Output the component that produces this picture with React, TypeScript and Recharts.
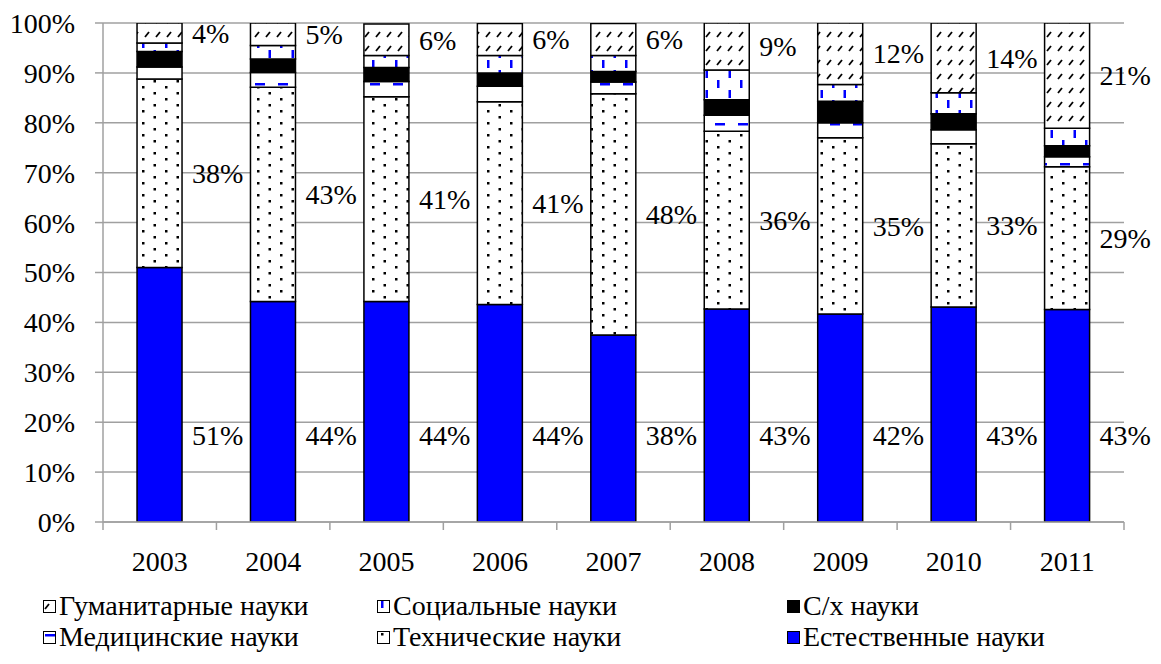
import { Bar, BarChart, CartesianGrid, LabelList, XAxis, YAxis } from 'recharts';

const years = ['2003', '2004', '2005', '2006', '2007', '2008', '2009', '2010', '2011'];
const natural = [51.0, 44.2, 44.2, 43.6, 37.5, 42.7, 41.7, 43.1, 42.6];
const technical = [37.8, 42.9, 41.0, 40.6, 48.3, 35.6, 35.3, 32.7, 28.6];
const medical = [2.4, 3.0, 3.1, 3.1, 2.4, 3.2, 3.0, 2.8, 2.0];
const agri = [3.1, 2.7, 2.8, 2.7, 2.1, 3.1, 4.3, 3.2, 2.2];
const social = [1.7, 2.7, 2.4, 3.5, 3.2, 6.0, 3.4, 4.2, 3.5];
const humanities = [4.0, 4.6, 6.3, 6.4, 6.4, 9.4, 12.3, 14.0, 21.1];
const yTicks = [0, 10, 20, 30, 40, 50, 60, 70, 80, 90, 100];

const data = years.map((year, i) => ({
  year,
  natural: natural[i],
  technical: technical[i],
  medical: medical[i],
  agri: agri[i],
  social: social[i],
  humanities: humanities[i],
}));

const FONT = "'Liberation Serif', 'DejaVu Serif', serif";
const W = 1161;
const H = 590;
const MARGIN = { top: 23, right: 37, left: 0, bottom: 28 };
const Y_WIDTH = 103;
const BAND = (W - MARGIN.right - Y_WIDTH) / years.length;
const GRID = '#a0a0a0';

// legend order follows the Excel original (reversed stack)
const legendItems = [
  { key: 'humanities', name: 'Гуманитарные науки', fill: 'url(#pHum)', col: 0, row: 0 },
  { key: 'social', name: 'Социальные науки', fill: 'url(#pSoc)', col: 1, row: 0 },
  { key: 'agri', name: 'С/х науки', fill: '#000000', col: 2, row: 0 },
  { key: 'medical', name: 'Медицинские науки', fill: 'url(#pMed)', col: 0, row: 1 },
  { key: 'technical', name: 'Технические науки', fill: 'url(#pTech)', col: 1, row: 1 },
  { key: 'natural', name: 'Естественные науки', fill: '#0000ff', col: 2, row: 1 },
];
const legendCols = [43, 377, 787];

const YearTick = (props: any) => {
  const { x, y, payload, index } = props;
  const axisY = y - 8;
  const half = BAND / 2;
  return (
    <g>
      <line x1={x - half} x2={x - half} y1={axisY} y2={axisY + 8} stroke={GRID} strokeWidth={1.5} />
      {index === years.length - 1 && (
        <line x1={x + half} x2={x + half} y1={axisY} y2={axisY + 8} stroke={GRID} strokeWidth={1.5} />
      )}
      <text x={x} y={y + 41} textAnchor="middle" style={{ fontSize: 28, fontFamily: FONT }} fill="#000">
        {payload.value}
      </text>
    </g>
  );
};

const makeLabel = (mode: 'bottom' | 'center') => (props: any) => {
  const { x, y, width, height, value } = props;
  const ty = mode === 'bottom' ? y + height - 87 : y + height / 2;
  return (
    <text x={x + width + 10} y={ty} dy="0.35em" style={{ fontSize: 28, fontFamily: FONT }} fill="#000">
      {`${Math.round(value)}%`}
    </text>
  );
};

const LegendIcon = ({ fill }: { fill: string }) => (
  <svg width={13} height={13} style={{ marginRight: 3, flex: 'none' }}>
    <rect x={0.5} y={0.5} width={12} height={12} fill={fill} stroke="#000" strokeWidth={1} />
  </svg>
);

export default function App() {
  return (
    <div style={{ position: 'absolute', left: 0, top: 0, width: W, height: 664, background: '#fff', fontFamily: FONT }}>
      <BarChart width={W} height={H} data={data} margin={MARGIN} barCategoryGap="30%" style={{ fontFamily: FONT }}>
        <defs>
          <pattern id="pHum" width={11} height={14} patternUnits="userSpaceOnUse">
            <rect width={11} height={14} fill="#fff" />
            <line x1={2} y1={9} x2={6} y2={4} stroke="#000" strokeWidth={1.8} />
          </pattern>
          <pattern id="pSoc" width={23} height={20} patternUnits="userSpaceOnUse">
            <rect width={23} height={20} fill="#fff" />
            <rect x={4} y={0} width={2.5} height={8} fill="#0000ff" />
            <rect x={15.5} y={10} width={2.5} height={8} fill="#0000ff" />
          </pattern>
          <pattern id="pMed" width={23} height={20} patternUnits="userSpaceOnUse">
            <rect width={23} height={20} fill="#fff" />
            <rect x={2} y={3} width={10} height={2.5} fill="#0000ff" />
          </pattern>
          <pattern id="pTech" width={23} height={12} patternUnits="userSpaceOnUse">
            <rect width={23} height={12} fill="#fff" />
            <rect x={4} y={2} width={2.5} height={2.5} fill="#000" />
            <rect x={15.5} y={8} width={2.5} height={2.5} fill="#000" />
          </pattern>
        </defs>
        <CartesianGrid vertical={false} stroke={GRID} strokeWidth={1.5} />
        <XAxis
          dataKey="year"
          stroke={GRID}
          strokeWidth={1.5}
          tickLine={false}
          tickSize={8}
          tickMargin={0}
          tick={<YearTick />}
          interval={0}
          height={40}
        />
        <YAxis
          width={Y_WIDTH}
          domain={[0, 100]}
          ticks={yTicks}
          allowDataOverflow
          stroke={GRID}
          strokeWidth={1.5}
          tickSize={8}
          tickMargin={20}
          tickFormatter={(v: number) => `${v}%`}
          tick={{ fill: '#000', fontSize: 28, fontFamily: FONT, style: { fontFamily: FONT } }}
        />
        <Bar dataKey="natural" stackId="s" fill="#0000ff" stroke="#000" strokeWidth={1.5} isAnimationActive={false}>
          <LabelList dataKey="natural" content={makeLabel('bottom')} />
        </Bar>
        <Bar dataKey="technical" stackId="s" fill="url(#pTech)" stroke="#000" strokeWidth={1.5} isAnimationActive={false}>
          <LabelList dataKey="technical" content={makeLabel('center')} />
        </Bar>
        <Bar dataKey="medical" stackId="s" fill="url(#pMed)" stroke="#000" strokeWidth={1.5} isAnimationActive={false} />
        <Bar dataKey="agri" stackId="s" fill="#000000" stroke="#000" strokeWidth={1.5} isAnimationActive={false} />
        <Bar dataKey="social" stackId="s" fill="url(#pSoc)" stroke="#000" strokeWidth={1.5} isAnimationActive={false} />
        <Bar dataKey="humanities" stackId="s" fill="url(#pHum)" stroke="#000" strokeWidth={1.5} isAnimationActive={false}>
          <LabelList dataKey="humanities" content={makeLabel('center')} />
        </Bar>
      </BarChart>
      {legendItems.map((item) => (
        <div
          key={item.key}
          style={{
            position: 'absolute',
            left: legendCols[item.col],
            top: 590 + item.row * 31,
            display: 'flex',
            alignItems: 'center',
            fontSize: 28,
            lineHeight: '32px',
            color: '#000',
            whiteSpace: 'nowrap',
          }}
        >
          <LegendIcon fill={item.fill} />
          {item.name}
        </div>
      ))}
    </div>
  );
}
